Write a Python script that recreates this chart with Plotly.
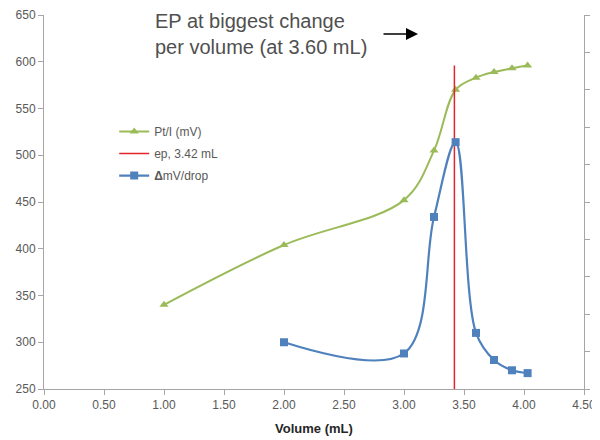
import plotly.graph_objects as go

# Data
vol_pt = [1.00, 2.00, 3.00, 3.25, 3.43, 3.60, 3.75, 3.90, 4.03]
pt_mv = [340, 404, 452, 505, 570, 583, 589, 593, 596]

vol_d = [2.00, 3.00, 3.25, 3.43, 3.60, 3.75, 3.90, 4.03]
dmv_drop = [2.5, 1.9, 9.2, 13.2, 3.0, 1.55, 1.0, 0.85]

ep_x = [3.42, 3.42]
ep_y = [250, 596]

x_ticks = [0, 0.5, 1, 1.5, 2, 2.5, 3, 3.5, 4, 4.5]
x_labels = ["0.00", "0.50", "1.00", "1.50", "2.00", "2.50", "3.00", "3.50", "4.00", "4.50"]

GREEN = "#9BBB59"
BLUE = "#4F81BD"
RED = "#E3242B"
AXIS = "#A6A6A6"
TXT = "#595959"
FONT = "Liberation Sans, Arial, sans-serif"

fig = go.Figure()
fig.add_trace(go.Scatter(
    x=vol_pt, y=pt_mv, name="Pt/I (mV)", mode="lines+markers",
    line=dict(color=GREEN, width=2, shape="spline", smoothing=1),
    marker=dict(symbol="triangle-up", size=8, color=GREEN),
    legendgroup="a", yaxis="y"))
fig.add_trace(go.Scatter(
    x=ep_x, y=ep_y, name="ep, 3.42 mL", mode="lines",
    line=dict(color=RED, width=1.5), legendgroup="b", yaxis="y"))
fig.add_trace(go.Scatter(
    x=vol_d, y=dmv_drop, name="<b>Δ</b>mV/drop", mode="lines+markers",
    line=dict(color=BLUE, width=2.2, shape="spline", smoothing=1),
    marker=dict(symbol="square", size=8, color=BLUE),
    legendgroup="c", yaxis="y2"))

fig.update_layout(
    width=592, height=432,
    margin=dict(l=36, r=16, t=7, b=51),
    paper_bgcolor="white", plot_bgcolor="white",
    font=dict(family=FONT, size=12, color=TXT),
    showlegend=True,
    legend=dict(x=0.13, y=0.727, xanchor="left", yanchor="top",
                bgcolor="rgba(0,0,0,0)", font=dict(size=12, color=TXT),
                tracegroupgap=3, itemwidth=30),
    xaxis=dict(range=[0, 4.5], tickvals=x_ticks, ticktext=x_labels,
               showgrid=False, zeroline=False, showline=True, linecolor=AXIS,
               linewidth=1, ticks="outside", ticklen=5, tickcolor=AXIS,
               automargin=False,
               title=dict(text="<b>Volume (mL)</b>", standoff=12,
                          font=dict(size=13, color="#262626"))),
    yaxis=dict(range=[250, 650], dtick=50, showgrid=False, zeroline=False,
               showline=True, linecolor=AXIS, linewidth=1, ticks="outside",
               ticklen=5, tickcolor=AXIS, automargin=False),
    yaxis2=dict(range=[0, 20], dtick=2, overlaying="y", side="right",
                showgrid=False, zeroline=False, showline=True, linecolor=AXIS,
                linewidth=1, ticks="outside", ticklen=5, tickcolor=AXIS,
                automargin=False),
    annotations=[
        dict(text="EP at biggest change<br>per volume (at 3.60 mL)",
             xref="paper", yref="paper", x=(153 - 44) / 540, y=1.018,
             xanchor="left", yanchor="top", showarrow=False, align="left",
             font=dict(size=20, color="#505050", family=FONT)),
        dict(text="", xref="paper", yref="paper",
             x=(418 - 44) / 540, y=(389 - 34) / 374,
             ax=-36, ay=0, axref="pixel", ayref="pixel",
             showarrow=True, arrowhead=2, arrowsize=1.5, arrowwidth=1.6,
             arrowcolor="black"),
    ],
)

fig.write_html("out.html")
